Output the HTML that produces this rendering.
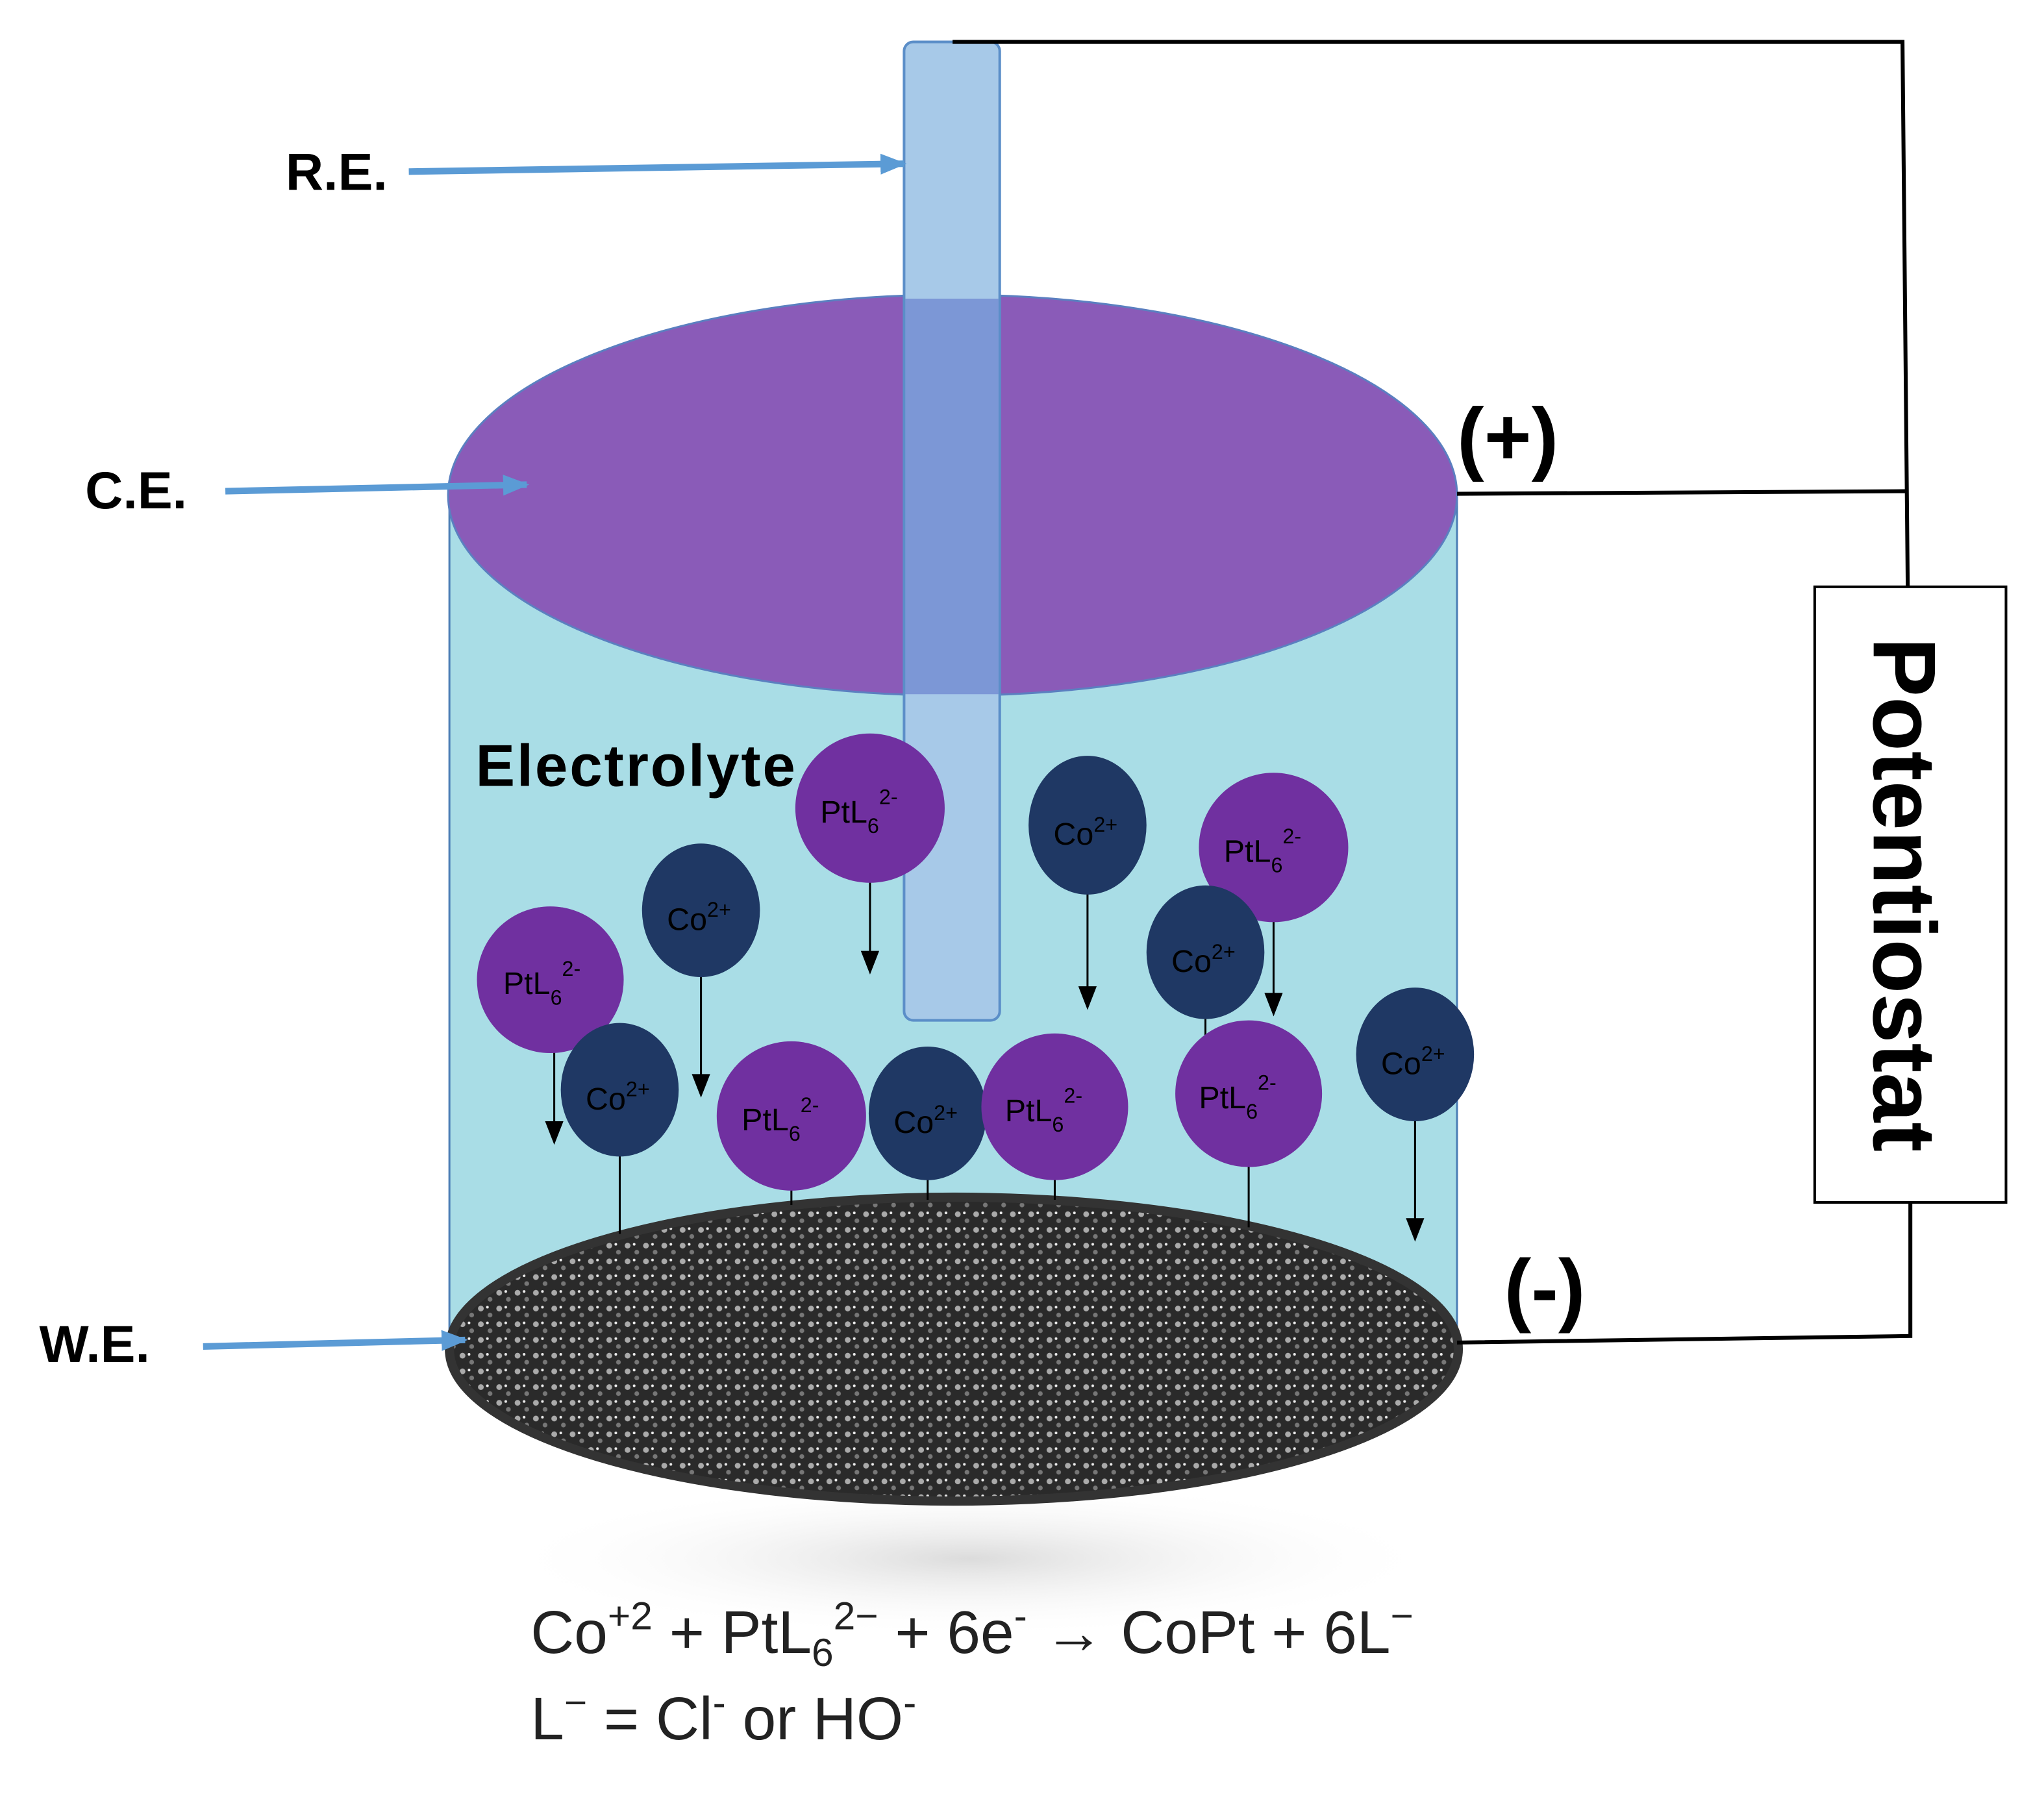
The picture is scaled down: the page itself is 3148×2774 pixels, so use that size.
<!DOCTYPE html>
<html><head><meta charset="utf-8"><style>
html,body{margin:0;padding:0;background:#fff;}
svg{display:block;}
text{font-family:"Liberation Sans",sans-serif;}
</style></head><body>
<svg width="3148" height="2774" viewBox="0 0 1560 1375" preserveAspectRatio="none" xmlns="http://www.w3.org/2000/svg">
<defs>
<radialGradient id="sh" cx="0.5" cy="0.5" r="0.5">
<stop offset="0" stop-color="#ccc" stop-opacity="0.7"/><stop offset="1" stop-color="#fff" stop-opacity="0"/>
</radialGradient>
<pattern id="dots" width="14" height="12" patternUnits="userSpaceOnUse">
<rect width="14" height="12" fill="#2a2a2a"/>
<circle cx="3" cy="3" r="2.2" fill="#aaa"/><circle cx="10" cy="8" r="1.8" fill="#777"/><circle cx="8" cy="2" r="1" fill="#eee"/>
</pattern>
<marker id="bh" markerWidth="20" markerHeight="16" refX="18" refY="8" orient="auto" markerUnits="userSpaceOnUse">
<path d="M0,0 L20,8 L0,16 z" fill="#5B9BD5"/></marker>
</defs>
<ellipse cx="740" cy="1190" rx="360" ry="60" fill="url(#sh)"/>
<rect x="343" y="378" width="769" height="652" fill="#A9DDE6" stroke="#4A7DB5" stroke-width="1.5"/>
<ellipse cx="727" cy="378" rx="385" ry="153" fill="#8A5BB8" stroke="#5B7FC0" stroke-width="1.5"/>
<rect x="690" y="32" width="73" height="747" rx="7" fill="#A7C9E8" stroke="#5B8EC8" stroke-width="2"/>
<path d="M691,228 L762,228 L762,530 L691,530 z" fill="#6E85D0" opacity="0.75"/>
<ellipse cx="728" cy="1030" rx="385" ry="116" fill="url(#dots)" stroke="#333" stroke-width="7"/>
<g stroke="#000" stroke-width="3" fill="none">
<path d="M727,32 L1452,32 L1456,448"/>
<path d="M1112,377 L1454,375"/>
<path d="M1458,918 L1458,1020 L1112,1025"/>
</g>
<rect x="1385" y="448" width="146" height="470" fill="#fff" stroke="#000" stroke-width="2"/>
<text transform="translate(1430,683) rotate(90)" text-anchor="middle" font-size="68" font-weight="bold">Potentiostat</text>
<g font-weight="bold" font-size="40">
<text x="218" y="145">R.E.</text>
<text x="65" y="388">C.E.</text>
<text x="30" y="1040">W.E.</text>
<text x="1112" y="355" font-size="62">(+)</text>
<text x="1148" y="1005" font-size="62">(-)</text>
<text x="363" y="600" font-size="45" textLength="244">Electrolyte</text>
</g>
<g stroke="#5B9BD5" stroke-width="5" fill="none">
<line x1="312" y1="131" x2="690" y2="125" marker-end="url(#bh)"/>
<line x1="172" y1="375" x2="402" y2="370" marker-end="url(#bh)"/>
<line x1="155" y1="1028" x2="355" y2="1023" marker-end="url(#bh)"/>
</g>
<g stroke="#000" stroke-width="1.5">
<line x1="664" y1="672" x2="664" y2="728"/>
<line x1="830" y1="680" x2="830" y2="755"/>
<line x1="972" y1="700" x2="972" y2="760"/>
<line x1="535" y1="745" x2="535" y2="822"/>
<line x1="423" y1="800" x2="423" y2="858"/>
<line x1="1080" y1="855" x2="1080" y2="932"/>
<line x1="473" y1="880" x2="473" y2="942"/>
<line x1="604" y1="905" x2="604" y2="920"/>
<line x1="708" y1="898" x2="708" y2="916"/>
<line x1="805" y1="898" x2="805" y2="916"/>
<line x1="953" y1="888" x2="953" y2="937"/>
<line x1="920" y1="775" x2="920" y2="795"/>
</g>
<g fill="#000">
<path d="M657,726 L671,726 L664,744 z"/>
<path d="M823,753 L837,753 L830,771 z"/>
<path d="M965,758 L979,758 L972,776 z"/>
<path d="M528,820 L542,820 L535,838 z"/>
<path d="M416,856 L430,856 L423,874 z"/>
<path d="M1073,930 L1087,930 L1080,948 z"/>
</g>
<g font-size="24" fill="#000">
<g><circle cx="664" cy="617" r="57" fill="#7030A0"/><text x="626" y="628">PtL<tspan font-size="16" dy="8">6</tspan><tspan font-size="16" dy="-22">2-</tspan></text></g>
<g><ellipse cx="830" cy="630" rx="45" ry="53" fill="#1F3864"/><text x="804" y="645">Co<tspan font-size="16" dy="-10">2+</tspan></text></g>
<g><circle cx="972" cy="647" r="57" fill="#7030A0"/><text x="934" y="658">PtL<tspan font-size="16" dy="8">6</tspan><tspan font-size="16" dy="-22">2-</tspan></text></g>
<g><ellipse cx="535" cy="695" rx="45" ry="51" fill="#1F3864"/><text x="509" y="710">Co<tspan font-size="16" dy="-10">2+</tspan></text></g>
<g><ellipse cx="920" cy="727" rx="45" ry="51" fill="#1F3864"/><text x="894" y="742">Co<tspan font-size="16" dy="-10">2+</tspan></text></g>
<g><circle cx="420" cy="748" r="56" fill="#7030A0"/><text x="384" y="759">PtL<tspan font-size="16" dy="8">6</tspan><tspan font-size="16" dy="-22">2-</tspan></text></g>
<g><ellipse cx="473" cy="832" rx="45" ry="51" fill="#1F3864"/><text x="447" y="847">Co<tspan font-size="16" dy="-10">2+</tspan></text></g>
<g><circle cx="604" cy="852" r="57" fill="#7030A0"/><text x="566" y="863">PtL<tspan font-size="16" dy="8">6</tspan><tspan font-size="16" dy="-22">2-</tspan></text></g>
<g><ellipse cx="708" cy="850" rx="45" ry="51" fill="#1F3864"/><text x="682" y="865">Co<tspan font-size="16" dy="-10">2+</tspan></text></g>
<g><circle cx="805" cy="845" r="56" fill="#7030A0"/><text x="767" y="856">PtL<tspan font-size="16" dy="8">6</tspan><tspan font-size="16" dy="-22">2-</tspan></text></g>
<g><circle cx="953" cy="835" r="56" fill="#7030A0"/><text x="915" y="846">PtL<tspan font-size="16" dy="8">6</tspan><tspan font-size="16" dy="-22">2-</tspan></text></g>
<g><ellipse cx="1080" cy="805" rx="45" ry="51" fill="#1F3864"/><text x="1054" y="820">Co<tspan font-size="16" dy="-10">2+</tspan></text></g>
</g>
<g font-size="46" fill="#222">
<text x="405" y="1262">Co<tspan font-size="30" dy="-18">+2</tspan><tspan dy="18"> + PtL</tspan><tspan font-size="30" dy="10">6</tspan><tspan font-size="30" dy="-28">2−</tspan><tspan dy="18"> + 6e</tspan><tspan font-size="30" dy="-18">-</tspan><tspan dy="18"> → CoPt + 6L</tspan><tspan font-size="30" dy="-18">−</tspan></text>
<text x="405" y="1328">L<tspan font-size="30" dy="-18">−</tspan><tspan dy="18"> = Cl</tspan><tspan font-size="30" dy="-18">-</tspan><tspan dy="18"> or HO</tspan><tspan font-size="30" dy="-18">-</tspan></text>
</g>
</svg>
</body></html>
